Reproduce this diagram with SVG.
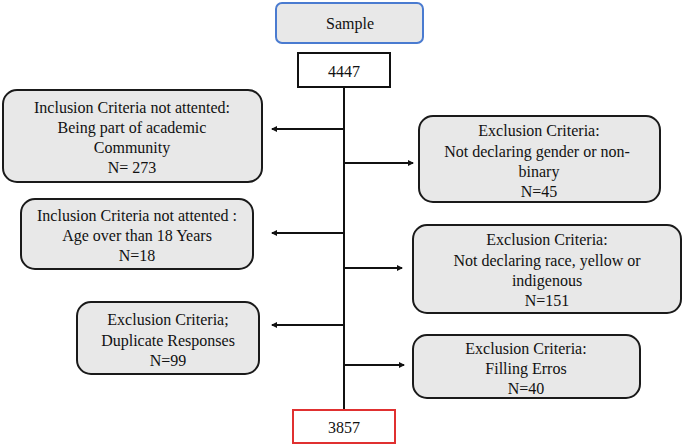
<svg xmlns="http://www.w3.org/2000/svg" width="685" height="446" viewBox="0 0 685 446">
<style>
.b{fill:#e8e8e8;stroke:#1a1a1a;stroke-width:2}
text{font-family:"Liberation Serif",serif;font-size:16px;fill:#111;text-anchor:middle;dominant-baseline:central}
.c{stroke:#111;stroke-width:2;fill:none}
</style>
<defs><marker id="a" markerWidth="6" markerHeight="6" refX="5" refY="3" orient="auto" markerUnits="userSpaceOnUse"><path d="M0,0L6,3L0,6z" fill="#111"/></marker></defs>
<rect width="685" height="446" fill="#fff"/>
<g id="connectors">
<line class="c" x1="344" y1="87" x2="344" y2="410"/>
<line class="c" x1="344" y1="129" x2="272" y2="129" marker-end="url(#a)"/>
<line class="c" x1="344" y1="163" x2="413" y2="163" marker-end="url(#a)"/>
<line class="c" x1="344" y1="233" x2="272" y2="233" marker-end="url(#a)"/>
<line class="c" x1="344" y1="268" x2="402" y2="268" marker-end="url(#a)"/>
<line class="c" x1="344" y1="325" x2="272" y2="325" marker-end="url(#a)"/>
<line class="c" x1="344" y1="365" x2="404" y2="365" marker-end="url(#a)"/>
</g>
<g id="sample"><rect x="276" y="3" width="147" height="40" rx="6" fill="#e8e8e8" stroke="#4a7bd0" stroke-width="2"/><text x="350" y="23" font-size="18">Sample</text></g>
<g id="n4447"><rect x="298" y="53" width="92" height="34" fill="#fff" stroke="#111" stroke-width="2"/><text x="344" y="71" font-size="18">4447</text></g>
<g id="n3857"><rect x="293" y="410" width="102" height="33" fill="#fff" stroke="#e03030" stroke-width="2"/><text x="344" y="427" font-size="18">3857</text></g>
<g id="l1"><rect class="b" x="3" y="90" width="259" height="92" rx="14"/><text x="132" y="107">Inclusion Criteria not attented:</text><text x="132" y="127">Being part of academic</text><text x="132" y="147">Community</text><text x="132" y="167">N= 273</text></g>
<g id="r1"><rect class="b" x="419" y="116" width="241" height="86" rx="14"/><text x="539" y="130">Exclusion Criteria:</text><text x="537" y="151">Not declaring gender or non-</text><text x="539" y="171">binary</text><text x="539" y="191">N=45</text></g>
<g id="l2"><rect class="b" x="21" y="199" width="232" height="70" rx="14"/><text x="137" y="215">Inclusion Criteria not attented :</text><text x="137" y="235">Age over than 18 Years</text><text x="137" y="255">N=18</text></g>
<g id="r2"><rect class="b" x="413" y="225" width="268" height="88" rx="14"/><text x="547" y="239">Exclusion Criteria:</text><text x="547" y="260">Not declaring race, yellow or</text><text x="547" y="280">indigenous</text><text x="547" y="300">N=151</text></g>
<g id="l3"><rect class="b" x="77" y="302" width="182" height="72" rx="14"/><text x="168" y="319">Exclusion Criteria;</text><text x="168" y="340">Duplicate Responses</text><text x="168" y="360">N=99</text></g>
<g id="r3"><rect class="b" x="413" y="335" width="227" height="63" rx="14"/><text x="526" y="348">Exclusion Criteria:</text><text x="526" y="368">Filling Erros</text><text x="526" y="388">N=40</text></g>
</svg>
